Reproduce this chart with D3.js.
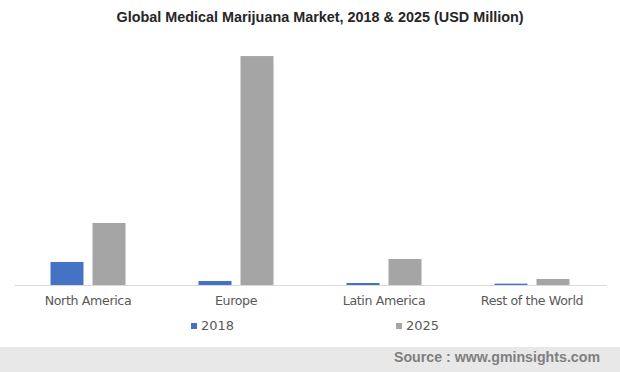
<!DOCTYPE html>
<html>
<head>
<meta charset="utf-8">
<script src="https://d3js.org/d3.v7.min.js"></script>
<style>
  body { margin: 0; background: #fff; }
  svg { display: block; font-family: "Liberation Sans", Arial, sans-serif; }
</style>
</head>
<body>
<svg id="chart" width="620" height="372"></svg>
<script>
// values (USD Million, estimated)
var regions = ["North America", "Europe", "Latin America", "Rest of the World"]
var years = ["2018", "2025"]
var values2018 = [240, 42, 21, 14]
var values2025 = [646, 2385, 271, 63]
var colors = ["#4472c4", "#a5a5a5"]

var svg = d3.select("#chart")

var baseline = 285
var xScale = d3.scaleBand()
  .domain(regions)
  .range([14, 606])

var yScale = d3.scaleLinear()
  .domain([0, 2500])
  .range([baseline, 45])

var barW = 33, gap = 9

// title
svg.append("text")
  .attr("x", 320)
  .attr("y", 22)
  .attr("text-anchor", "middle")
  .style("font-size", "14.4px")
  .style("font-weight", "bold")
  .style("fill", "#262626")
  .text("Global Medical Marijuana Market, 2018 & 2025 (USD Million)")

var series = [values2018, values2025]

series.forEach(function(vals, si) {
  svg.append("g")
    .selectAll("rect")
    .data(regions)
    .enter().append("rect")
    .attr("x", function(d) {
      var c = xScale(d) + xScale.bandwidth() / 2
      return c - (barW * 2 + gap) / 2 + si * (barW + gap)
    })
    .attr("width", barW)
    .attr("y", function(d, i) { return yScale(vals[i]) })
    .attr("height", function(d, i) { return baseline - yScale(vals[i]) })
    .attr("fill", colors[si])
})

// axis
var xAxis = svg.append("g")
  .attr("transform", `translate(0, ${baseline})`)
  .call(d3.axisBottom(xScale).tickSize(0).tickPadding(11))
xAxis.select(".domain").attr("stroke", "#d9d9d9").attr("stroke-width", 1)
xAxis.selectAll("text")
  .style("font-size", "12.6px")
  .style("font-family", "\"DejaVu Sans\", sans-serif")
  .style("fill", "#595959")
  .style("letter-spacing", "-0.35px")

// legend
var legendX = [191, 396]
years.forEach(function(y, i) {
  svg.append("rect")
    .attr("x", legendX[i])
    .attr("y", 323)
    .attr("width", 6)
    .attr("height", 6)
    .attr("fill", colors[i])
  svg.append("text")
    .attr("x", legendX[i] + 10)
    .attr("y", 330)
    .style("font-size", "13px")
    .style("font-family", "\"DejaVu Sans\", sans-serif")
    .style("fill", "#595959")
    .text(y)
})

// source bar
svg.append("rect")
  .attr("x", 0)
  .attr("y", 347)
  .attr("width", 620)
  .attr("height", 25)
  .attr("fill", "#e8e8e8")
svg.append("text")
  .attr("x", 600)
  .attr("y", 362)
  .attr("text-anchor", "end")
  .style("font-size", "14.2px")
  .style("font-weight", "bold")
  .style("fill", "#7f7f7f")
  .text("Source : www.gminsights.com")
</script>
</body>
</html>
